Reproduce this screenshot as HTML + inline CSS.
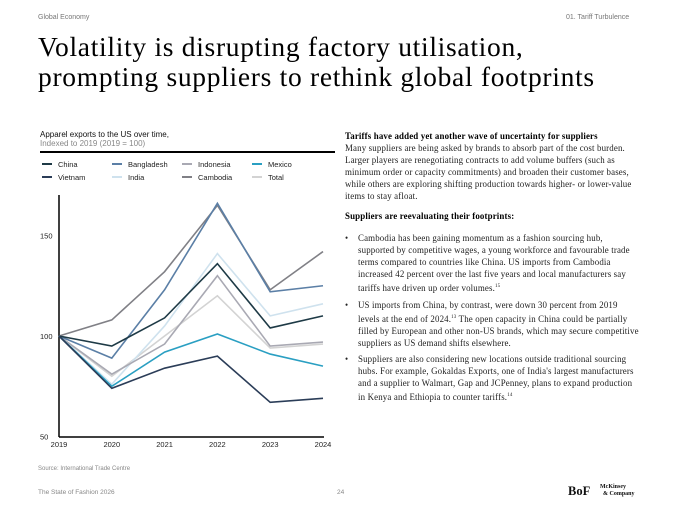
<!DOCTYPE html>
<html><head><meta charset="utf-8"><style>
body{margin:0;width:681px;height:511px;background:#fff;position:relative;overflow:hidden;font-family:"Liberation Sans",sans-serif;color:#111}
.a{position:absolute;white-space:nowrap}
.s{font-family:"Liberation Serif",serif}
.rt{font-family:"Liberation Serif",serif;font-size:8.9px;line-height:11.9px;color:#222;letter-spacing:0.15px}
.rt b{color:#000}
</style></head><body>
<div class="a" style="left:38px;top:14px;font-size:7px;color:#777">Global Economy</div>
<div class="a" style="left:566px;top:14px;font-size:7px;color:#777">01. Tariff Turbulence</div>
<div class="a s" style="left:38px;top:32px;font-size:27.5px;line-height:30px;color:#000;letter-spacing:0.7px">Volatility is disrupting factory utilisation,<br>prompting suppliers to rethink global footprints</div>

<div class="a" style="left:40px;top:130px;font-size:8px;line-height:9px">Apparel exports to the US over time,<br><span style="color:#888">Indexed to 2019 (2019 = 100)</span></div>
<div class="a" style="left:40px;top:151px;width:295px;height:1.5px;background:#000"></div>

<svg class="a" style="left:0;top:0" width="681" height="511" id="chart"></svg>

<div class="a rt" style="left:345px;top:131px">
<b>Tariffs have added yet another wave of uncertainty for suppliers</b><br>
Many suppliers are being asked by brands to absorb part of the cost burden.<br>
Larger players are renegotiating contracts to add volume buffers (such as<br>
minimum order or capacity commitments) and broaden their customer bases,<br>
while others are exploring shifting production towards higher- or lower-value<br>
items to stay afloat.<br>
<div style="height:9px"></div>
<b>Suppliers are reevaluating their footprints:</b><br>
<div style="height:10px"></div>
<div style="position:relative;padding-left:13px"><span style="position:absolute;left:0">•</span>Cambodia has been gaining momentum as a fashion sourcing hub,<br>supported by competitive wages, a young workforce and favourable trade<br>terms compared to countries like China. US imports from Cambodia<br>increased 42 percent over the last five years and local manufacturers say<br>tariffs have driven up order volumes.<sup style="font-size:5px">15</sup></div>
<div style="height:5px"></div>
<div style="position:relative;padding-left:13px"><span style="position:absolute;left:0">•</span>US imports from China, by contrast, were down 30 percent from 2019<br>levels at the end of 2024.<sup style="font-size:5px">13</sup> The open capacity in China could be partially<br>filled by European and other non-US brands, which may secure competitive<br>suppliers as US demand shifts elsewhere.</div>
<div style="height:5px"></div>
<div style="position:relative;padding-left:13px"><span style="position:absolute;left:0">•</span>Suppliers are also considering new locations outside traditional sourcing<br>hubs. For example, Gokaldas Exports, one of India's largest manufacturers<br>and a supplier to Walmart, Gap and JCPenney, plans to expand production<br>in Kenya and Ethiopia to counter tariffs.<sup style="font-size:5px">14</sup></div>
</div>

<div class="a" style="left:38px;top:466px;font-size:6px;color:#888">Source: International Trade Centre</div>
<div class="a" style="left:38px;top:489px;font-size:6.5px;color:#888">The State of Fashion 2026</div>
<div class="a" style="left:337px;top:489px;font-size:6.5px;color:#888">24</div>
<div class="a s" style="left:568px;top:484px;font-size:12.5px;font-weight:bold">BoF</div>
<div class="a s" style="left:600px;top:484px;font-size:6px;line-height:6.5px;font-weight:bold">McKinsey<br>&nbsp;&nbsp;&amp; Company</div>

<script>
const years=['2019','2020','2021','2022','2023','2024'];
const yTicks=[50,100,150];
const seriesNames=['China','Bangladesh','Indonesia','Mexico','Vietnam','India','Cambodia','Total'];
const colors=['#1e3a46','#5b7fa6','#a9a9b3','#2a9fc2','#2b3d58','#cfe2ee','#808086','#d3d3d3'];
const china=[100,95,109,136,104,110];
const vietnam=[100,74,84,90,67,69];
const bangladesh=[100,89,123,166,122,125];
const india=[100,76,105,141,110,116];
const indonesia=[100,81,96,130,95,97];
const cambodia=[100,108,132,165,123,142];
const mexico=[100,75,92,101,91,85];
const total=[100,80,100,120,94,96];
const values=[china,bangladesh,indonesia,mexico,vietnam,india,cambodia,total];
const NS='http://www.w3.org/2000/svg';
const svg=document.getElementById('chart');
const x=i=>59+i*(323-59)/(years.length-1);
const y=v=>336-(v-100)*2.01;
function mk(t,a){const e=document.createElementNS(NS,t);for(const k in a)e.setAttribute(k,a[k]);svg.appendChild(e);return e;}
seriesNames.forEach((n,i)=>{
  const lx=42+(i%4)*70, ly=164+Math.floor(i/4)*13;
  const l=mk('line',{x1:lx,x2:lx+10,y1:ly,y2:ly,stroke:colors[i],'stroke-width':2});
  
  
  const t=mk('text',{x:lx+16,y:ly+3,'font-size':7.5,'font-family':'Liberation Sans, sans-serif',fill:'#222'});
  t.textContent=n;
  
  
});
const ya=mk('line',{x1:59,x2:59,y1:195,y2:437,stroke:'#000','stroke-width':1.5});


const xa=mk('line',{x1:59,x2:324,y1:437,y2:437,stroke:'#000','stroke-width':1.5});


yTicks.forEach(v=>{
  const t=mk('text',{x:40,y:y(v)+3,'font-size':7.5,'font-family':'Liberation Sans, sans-serif',fill:'#222'});
  t.textContent=v;
  
  
});
years.forEach((yr,i)=>{
  const t=mk('text',{x:x(i),y:447,'font-size':7.5,'text-anchor':'middle','font-family':'Liberation Sans, sans-serif',fill:'#222'});
  t.textContent=yr;
  
  
});
[7,5,2,6,1,3,0,4].forEach(i=>{
  const p=mk('polyline',{points:values[i].map((v,j)=>x(j)+','+y(v)).join(' '),fill:'none',stroke:colors[i],'stroke-width':1.6,'stroke-linejoin':'miter'});
  
  
});
</script>
</body></html>
